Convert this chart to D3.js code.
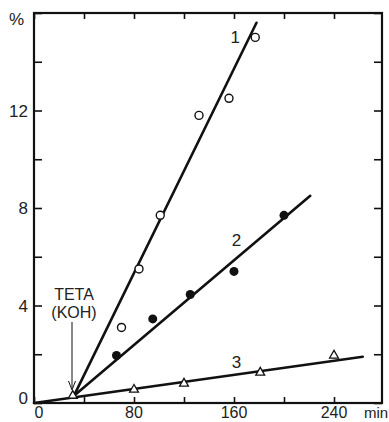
<!DOCTYPE html>
<html><head><meta charset="utf-8">
<script src="https://cdn.jsdelivr.net/npm/d3@7"></script>
<style>
body{margin:0;background:#fff;}
svg text{font-family:"Liberation Sans",Arial,sans-serif;fill:#222;}
</style></head>
<body><svg id="c" width="389" height="422"></svg>
<script>
// ---- data ----
const xTicks = [0,40,80,120,160,200,240];
const xLabels = [0,80,160,240];
const yTicks = [0,2,4,6,8,10,12,14,16];
const yLabels = [0,4,8,12];

const s1x = [70,84,101,132,156,177];
const s1y = [3.1,5.5,7.7,11.8,12.5,15.0];
const s2x = [66,95,125,160,200];
const s2y = [1.95,3.45,4.45,5.4,7.7];
const s3x = [31,80,120,181,240];
const s3y = [0.3,0.55,0.8,1.25,1.95];

const fit1x = [32,178], fit1y = [0.3,15.6];
const fit2x = [32,221], fit2y = [0.3,8.5];
const fit3x = [0,263],  fit3y = [0,1.9];

const seriesLabels = ["1","2","3"];
const labelPos = [[161,15.0],[162,6.7],[162,1.7]];

// ---- chart ----
const svg = d3.select("#c");
const L=34,R=382,T=13,B=403;
const x = d3.scaleLinear().domain([0,278.4]).range([L,R]);
const y = d3.scaleLinear().domain([0,16]).range([B,T]);

// ticks
const gB = svg.append("g").attr("transform",`translate(0,${B})`)
  .call(d3.axisBottom(x).tickValues(xTicks).tickSizeInner(-6).tickSizeOuter(0).tickFormat(""));
const gT = svg.append("g").attr("transform",`translate(0,${T})`)
  .call(d3.axisTop(x).tickValues(xTicks).tickSizeInner(-6).tickSizeOuter(0).tickFormat(""));
const gL = svg.append("g").attr("transform",`translate(${L},0)`)
  .call(d3.axisLeft(y).tickValues(yTicks).tickSizeInner(-8).tickSizeOuter(0).tickFormat(""));
const gR = svg.append("g").attr("transform",`translate(${R},0)`)
  .call(d3.axisRight(y).tickValues(yTicks).tickSizeInner(-8).tickSizeOuter(0).tickFormat(""));
[gB,gT,gL,gR].forEach(g=>{g.select(".domain").remove();g.selectAll("line").attr("stroke","#111").attr("stroke-width",1.6);});

// frame
svg.append("rect").attr("x",L).attr("y",T).attr("width",R-L).attr("height",B-T)
  .attr("fill","none").attr("stroke","#111").attr("stroke-width",2.2);

// tick labels
svg.selectAll(".xl").data(xLabels).join("text")
  .attr("x",d=>x(d)+(d===0?5:0)).attr("y",418).attr("text-anchor","middle")
  .attr("font-size",16).text(d=>d);
svg.selectAll(".yl").data(yLabels).join("text")
  .attr("x",28).attr("y",d=>y(d)+6-(d===0?5:0)).attr("text-anchor","end")
  .attr("font-size",17).text(d=>d);
svg.append("text").attr("x",9).attr("y",25).attr("font-size",17).text("%");
svg.append("text").attr("x",364).attr("y",418).attr("font-size",15).text("min");

// fit lines
const line = d3.line().x(d=>x(d[0])).y(d=>y(d[1]));
[[fit1x,fit1y],[fit2x,fit2y],[fit3x,fit3y]].forEach(([fx,fy])=>{
  svg.append("path").datum(fx.map((v,i)=>[v,fy[i]])).attr("d",line)
    .attr("fill","none").attr("stroke","#111").attr("stroke-width",2.6).attr("stroke-linecap","round");
});

// markers
svg.selectAll(".m1").data(s1x.map((v,i)=>[v,s1y[i]])).join("circle")
  .attr("cx",d=>x(d[0])).attr("cy",d=>y(d[1])).attr("r",4)
  .attr("fill","#fff").attr("stroke","#111").attr("stroke-width",1.4);
svg.selectAll(".m2").data(s2x.map((v,i)=>[v,s2y[i]])).join("circle")
  .attr("cx",d=>x(d[0])).attr("cy",d=>y(d[1])).attr("r",4.5)
  .attr("fill","#111");
svg.selectAll(".m3").data(s3x.map((v,i)=>[v,s3y[i]])).join("path")
  .attr("transform",d=>`translate(${x(d[0])},${y(d[1])})`)
  .attr("d",d3.symbol(d3.symbolTriangle,34))
  .attr("fill","#fff").attr("stroke","#111").attr("stroke-width",1.3);

// series labels
svg.selectAll(".sl").data(seriesLabels).join("text")
  .attr("x",(d,i)=>x(labelPos[i][0])).attr("y",(d,i)=>y(labelPos[i][1])+6)
  .attr("text-anchor","middle").attr("font-size",17).text(d=>d);

// annotation
svg.append("text").attr("x",74).attr("y",300).attr("text-anchor","middle").attr("font-size",16).text("TETA");
svg.append("text").attr("x",74).attr("y",318).attr("text-anchor","middle").attr("font-size",16).text("(KOH)");
svg.append("line").attr("x1",72).attr("y1",322).attr("x2",72).attr("y2",388)
  .attr("stroke","#111").attr("stroke-width",1);
svg.append("path").attr("d","M68.5,381 L72,390 L75.5,381").attr("fill","none").attr("stroke","#111").attr("stroke-width",1);
</script></body></html>
